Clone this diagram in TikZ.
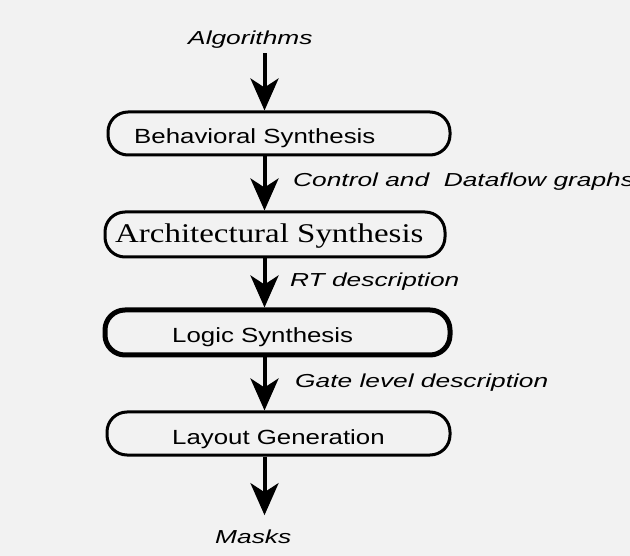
\documentclass[tikz,border=0pt]{standalone}
\usepackage{fontspec}
\setmainfont{Liberation Sans}
\newfontfamily\boxsans[FakeStretch=1.26]{Liberation Sans}
\newfontfamily\labsans[FakeStretch=1.4]{Liberation Sans}
\newfontfamily\boxserif[FakeStretch=1.22]{Liberation Serif}
\usetikzlibrary{arrows.meta}
\definecolor{paper}{HTML}{F2F2F2}
\definecolor{ink}{HTML}{000000}

\tikzset{
  stage/.style={draw=ink, line width=3pt, rectangle, rounded corners=20pt, inner sep=0pt},
  boldstage/.style={stage, line width=5pt},
  stagetext/.style={anchor=base west, inner sep=0pt, text=ink, font=\boxsans\fontsize{20.5}{24}\selectfont},
  serifstagetext/.style={anchor=base west, inner sep=0pt, text=ink, font=\boxserif\fontsize{27}{30}\selectfont},
  flowlabel/.style={anchor=base west, inner sep=0pt, text=ink, font=\labsans\itshape\fontsize{18.8}{22}\selectfont},
  flow/.style={draw=ink, line width=4pt, -{Stealth[length=32pt, width=28pt, inset=9pt]}}
}

\begin{document}
\begin{tikzpicture}[x=1pt, y=-1pt]
  \fill[paper] (0,0) rectangle (630,556);
  \useasboundingbox (0,0) rectangle (630,556);

  % stage boxes
  \node[stage, minimum width=342pt, minimum height=43pt] (beh) at (279,133.5) {};
  \node[stage, minimum width=340pt, minimum height=45pt] (arch) at (275,234.5) {};
  \node[boldstage, minimum width=345pt, minimum height=45pt] (logic) at (277.5,332.5) {};
  \node[stage, minimum width=343pt, minimum height=43pt] (lay) at (278.5,433.5) {};

  % box captions
  \node[stagetext] (behT) at (134,144) {Behavioral Synthesis};
  \node[serifstagetext] (archT) at (115,243) {Architectural Synthesis};
  \node[stagetext] (logicT) at (172,343) {Logic Synthesis};
  \node[stagetext] (layT) at (172,445) {Layout Generation};

  % data between stages
  \node[flowlabel] (alg) at (188,45) {Algorithms};
  \node[flowlabel] (cdfg) at (293,187) {Control and\ \ Dataflow graphs};
  \node[flowlabel] (rt) at (290,287) {RT description};
  \node[flowlabel] (gate) at (295,388) {Gate level description};
  \node[flowlabel] (masks) at (215,543) {Masks};

  % vertical flow
  \coordinate (axis) at (264.5,0);
  \draw[flow] ([yshift=-4pt]alg.south -| axis) -- (beh.north -| axis);
  \draw[flow] (beh.south -| axis) -- (arch.north -| axis);
  \draw[flow] (arch.south -| axis) -- (logic.north -| axis);
  \draw[flow] (logic.south -| axis) -- (lay.north -| axis);
  \draw[flow] (lay.south -| axis) -- ([yshift=14pt]masks.north -| axis);
\end{tikzpicture}
\end{document}
